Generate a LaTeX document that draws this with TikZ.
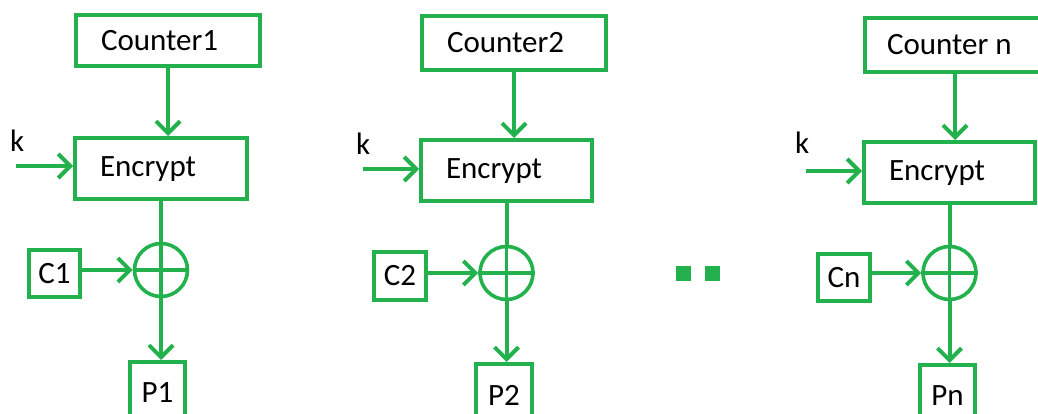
\documentclass[tikz,border=0pt]{standalone}
\usepackage{fontspec}
\setmainfont{Carlito}
\usetikzlibrary{arrows.meta}
\definecolor{pgreen}{HTML}{22B14C}
\tikzset{
  txt/.style={font=\fontsize{31}{36}\selectfont, text=black},
  lbox/.style={txt, draw=pgreen, line width=4pt, anchor=north west, inner xsep=25pt, inner ysep=0pt, align=flush left},
  cbox/.style={txt, draw=pgreen, line width=4pt, anchor=north west, inner sep=0pt, align=center},
  xorc/.style={draw=pgreen, line width=3.6pt, circle, minimum size=53pt, inner sep=0pt},
  conn/.style={draw=pgreen, line width=4pt},
  thinconn/.style={draw=pgreen, line width=3.6pt},
  arr/.style={conn, -{Straight Barb[length=12pt,width=24pt]}},
  klabel/.style={txt, anchor=base west, inner sep=0pt},
  dotsq/.style={fill=pgreen, minimum size=15pt, inner sep=0pt, anchor=north west}
}
\begin{document}
\begin{tikzpicture}[x=1pt,y=-1pt]
\useasboundingbox (0,0) rectangle (1038,414);
\clip (0,0) rectangle (1038,414);
% column 1
\node[lbox, text width=134pt, minimum height=51pt] (cnt1) at (74,13) {Counter1};
\node[lbox, text width=122pt, minimum height=61pt, text depth=4pt] (enc1) at (73,136) {Encrypt};
\node[klabel] (k1) at (10,152) {k};
\coordinate (ks1) at (16,166);
\node[xorc] (xor1) at (enc1.south |- 0,270) {};
\node[cbox, minimum width=51pt, minimum height=47pt] (c1) at (27,248) {C1};
\node[cbox, minimum width=55pt, minimum height=62pt] (p1) at (128,360) {P1};
% column 2
\node[lbox, text width=134pt, minimum height=54pt] (cnt2) at (420,14) {Counter2};
\node[lbox, text width=121pt, minimum height=61pt, text depth=4pt] (enc2) at (419,138) {Encrypt};
\node[klabel] (k2) at (356,155) {k};
\coordinate (ks2) at (363,169);
\node[xorc] (xor2) at (enc2.south |- 0,273) {};
\node[cbox, minimum width=52pt, minimum height=48pt] (c2) at (372,250) {C2};
\node[cbox, minimum width=56pt, minimum height=62pt] (p2) at (474,362) {P2};
% dots
\node[dotsq] (dot1) at (676,266) {};
\node[dotsq] (dot2) at (705,266) {};
% column 3
\node[lbox, minimum height=54pt, inner xsep=22pt, text width=136pt] (cntn) at (863,16) {Counter n};
\node[lbox, text width=121pt, minimum height=61pt, text depth=4pt] (encn) at (862,140) {Encrypt};
\node[klabel] (kn) at (795,154) {k};
\coordinate (ksn) at (806,171);
\node[xorc] (xorn) at (encn.south |- 0,273) {};
\node[cbox, minimum width=52pt, minimum height=47pt] (cn) at (816,252) {Cn};
\node[cbox, minimum width=55pt, minimum height=62pt] (pn) at (918,363) {Pn};
% connectors
\foreach \i in {1,2,n}{
  \draw[arr] (cnt\i.south) -- (cnt\i.south |- enc\i.north);
  \draw[arr] (ks\i) -- (ks\i -| enc\i.west);
  \draw[conn] (enc\i.south) -- (xor\i.north);
  \draw[thinconn] (xor\i.north) -- (xor\i.south);
  \draw[thinconn] (xor\i.west) -- (xor\i.east);
  \draw[arr] (c\i.east |- xor\i.west) -- (xor\i.west);
  \draw[arr] (xor\i.south) -- (xor\i.south |- p\i.north);
}
\end{tikzpicture}
\end{document}
